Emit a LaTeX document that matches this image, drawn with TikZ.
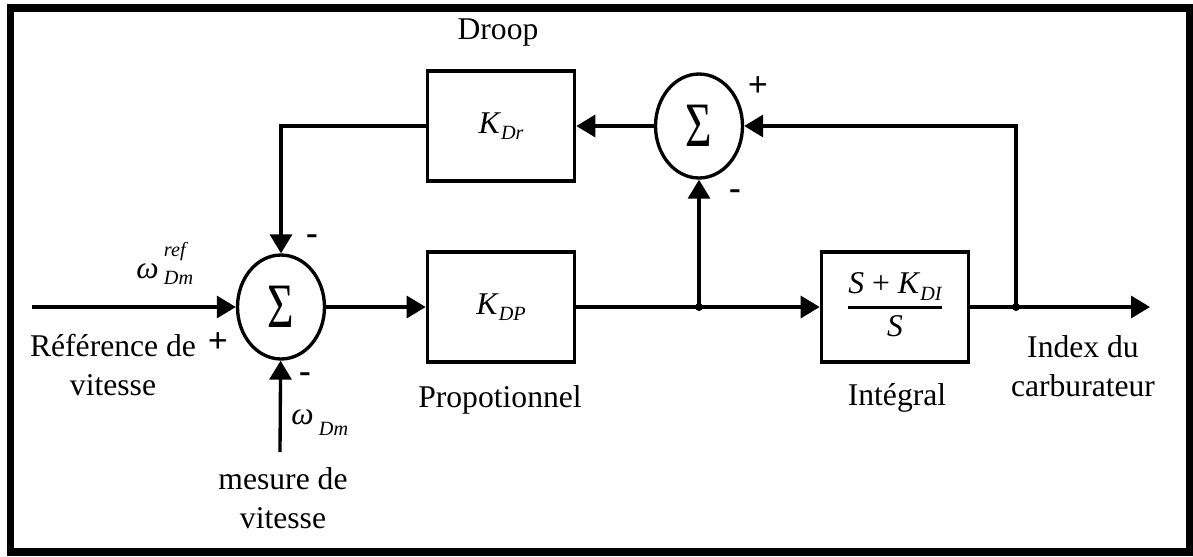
\documentclass[tikz,border=0pt]{standalone}
\usepackage{fontspec}
\setmainfont{Liberation Serif}
\usetikzlibrary{arrows.meta,shapes.geometric}

\newcommand{\lowsub}[1]{\raisebox{-0.45ex}{\fontsize{11.5}{11.5}\selectfont\itshape #1}}
\newcommand{\bigsum}{\scalebox{0.72}[1]{\fontsize{36}{36}\selectfont Σ}}

\begin{document}
\begin{tikzpicture}[x=0.02cm,y=-0.02cm,font=\fontsize{18}{22.5}\selectfont,
  blk/.style={draw,line width=2.1pt,minimum width=2.94cm,minimum height=2.2cm,inner sep=0pt},
  sumnode/.style={draw,ellipse,line width=1.9pt,minimum width=1.74cm,minimum height=2.08cm,inner sep=0pt},
  sig/.style={line width=1.9pt,-{Triangle[length=0.38cm,width=0.44cm]}},
  wire/.style={line width=1.9pt},
  sgn/.style={font=\fontsize{20}{20}\selectfont\bfseries}]
\useasboundingbox (0,0) rectangle (1193,556);
\draw[line width=0.15cm] (10.5,8) rectangle (1189.5,552);

\node[sumnode] (sumA) at (281,307) {\bigsum};
\node[sumnode] (sumB) at (699,126) {\bigsum};
\node[blk] (kdp) at (501,307) {\textit{K}\lowsub{DP}};
\node[blk] (kdr) at (501,126) {\textit{K}\lowsub{Dr}};
\node[blk] (integ) at (895,307)
{\setlength{\arrayrulewidth}{1.7pt}\begin{tabular}{@{}c@{}}\textit{S} + \textit{K}\lowsub{DI}\\\hline\textit{S}\end{tabular}};

\coordinate (in) at (32,307);
\coordinate (meas) at (280,452);
\coordinate (out) at (1150,307);
\coordinate (jp) at (699,307);
\coordinate (jo) at (1016,307);

\draw[sig] (in) -- (sumA);
\draw[sig] (sumA) -- (kdp);
\draw[wire] (kdp) -- (jp);
\draw[sig] (jp) -- (integ);
\draw[wire] (integ) -- (jo);
\draw[sig] (jo) -- (out);
\draw[sig] (jp) -- (sumB);
\draw[sig] (jo) |- (sumB);
\draw[sig] (sumB) -- (kdr);
\draw[sig] (kdr) -| (sumA);
\draw[sig] (meas) -- (sumA);
\fill (jp) circle[radius=0.08cm];
\fill (jo) circle[radius=0.08cm];

\node (droop) at (498,33) {Droop};
\node (prop) at (500,400) {Propotionnel};
\node (intl) at (897,398) {Intégral};
\node[align=center] (idx) at (1083,366) {Index du\\carburateur};
\node[align=center] (ref) at (113,365) {Référence de\\vitesse};
\node[align=center] (mes) at (283,498) {mesure de\\vitesse};

\node[anchor=base west,inner sep=0pt] (wref) at (136,278)
{\textit{ω}\,\rlap{\raisebox{1.45ex}{\fontsize{11.5}{11.5}\selectfont\itshape ref}}\lowsub{Dm}};
\node[anchor=base west,inner sep=0pt] (wdm) at (291,424)
{\textit{ω}\,\raisebox{-0.8ex}{\fontsize{11.5}{11.5}\selectfont\itshape Dm}};

\node[sgn] (pA) at (218,343) {+};
\node[sgn] (mA) at (312,240) {-};
\node[sgn] (mB) at (305,378) {-};
\node[sgn] (pB) at (758,87) {+};
\node[sgn] (mC) at (735,195) {-};
\end{tikzpicture}
\end{document}
